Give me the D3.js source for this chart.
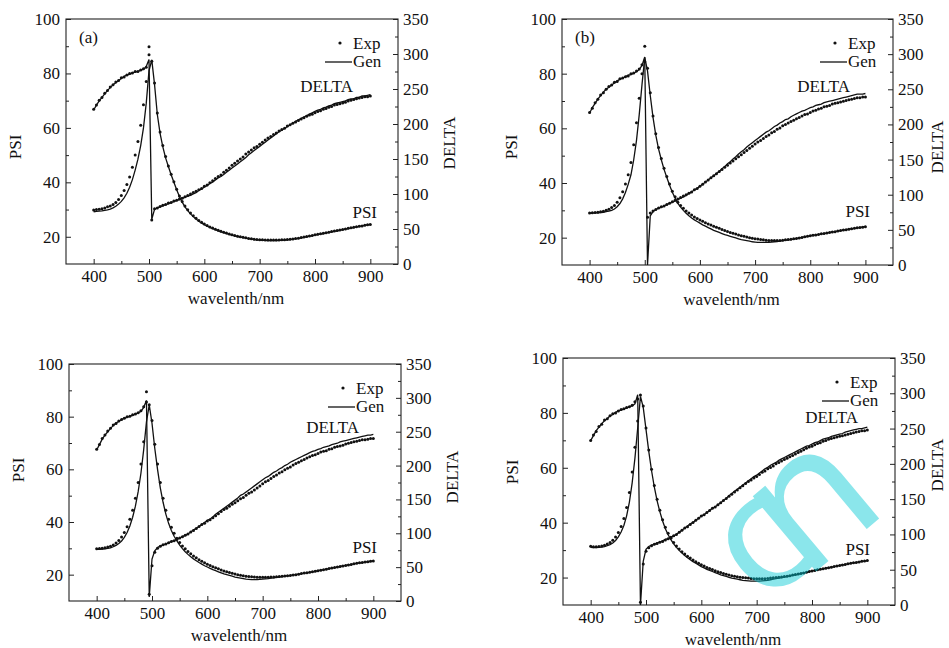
<!DOCTYPE html>
<html>
<head>
<meta charset="utf-8">
<script src="https://cdn.jsdelivr.net/npm/d3@7"></script>
<style>
  body { margin: 0; background: #fff; }
  svg text { font-family: "Liberation Serif", "Times New Roman", serif; font-size: 17px; fill: #111; }
</style>
</head>
<body>
<svg id="chart" width="949" height="648"></svg>
<script>
// wavelength grid (nm), shared by all four panels
const wl = [
  400,405,410,415,420,425,430,435,440,445,
  450,455,460,465,470,475,480,485,490,495,
  500,505,510,515,520,525,530,535,540,545,
  550,555,560,565,570,575,580,585,590,595,
  600,605,610,615,620,625,630,635,640,645,
  650,655,660,665,670,675,680,685,690,695,
  700,705,710,715,720,725,730,735,740,745,
  750,755,760,765,770,775,780,785,790,795,
  800,805,810,815,820,825,830,835,840,845,
  850,855,860,865,870,875,880,885,890,895,
  900
];

// tick values
const xMajor = [400, 500, 600, 700, 800, 900];
const xMinor = [450, 550, 650, 750, 850];
const psiMajor = [20, 40, 60, 80, 100];
const psiMinor = [30, 50, 70, 90];
const dltMajor = [0, 50, 100, 150, 200, 250, 300, 350];
const dltMinor = [25, 75, 125, 175, 225, 275, 325];

// ---- panel (a) ----
const psiExpA = [
  29.8,30.0,30.1,30.3,30.6,31.0,31.3,31.9,32.6,33.7,
  35.2,37.0,39.2,42.0,45.5,50.0,55.0,61.0,68.5,77.0,
  89.8,84.5,76.5,65.5,58.5,53.5,49.5,46.0,43.0,40.2,
  37.5,35.0,33.0,31.3,29.9,28.7,27.7,26.8,26.0,25.3,
  24.7,24.1,23.6,23.2,22.8,22.4,22.0,21.7,21.4,21.0,
  20.7,20.5,20.2,20.0,19.8,19.6,19.4,19.3,19.1,19.0,
  18.9,18.9,18.8,18.8,18.8,18.8,18.8,18.8,18.9,18.9,
  19.0,19.1,19.2,19.4,19.5,19.7,19.9,20.1,20.3,20.5,
  20.7,20.9,21.1,21.3,21.5,21.7,21.9,22.1,22.3,22.5,
  22.7,22.9,23.1,23.3,23.5,23.7,23.9,24.0,24.2,24.4,
  24.5
];
const psiGenA = [
  29.2,29.3,29.4,29.5,29.7,29.9,30.2,30.6,31.2,32.0,
  33.0,34.3,36.0,38.2,41.0,44.5,48.5,53.5,60.0,69.0,
  81.0,85.0,76.0,65.0,58.0,53.0,49.0,45.8,42.8,40.0,
  37.3,34.8,32.7,31.0,29.6,28.4,27.4,26.5,25.7,25.0,
  24.4,23.9,23.4,23.0,22.6,22.2,21.8,21.5,21.2,20.9,
  20.6,20.3,20.1,19.9,19.7,19.5,19.3,19.2,19.0,18.9,
  18.8,18.7,18.7,18.6,18.6,18.6,18.6,18.7,18.7,18.8,
  18.9,19.0,19.1,19.3,19.4,19.6,19.8,20.0,20.2,20.4,
  20.6,20.8,21.0,21.2,21.4,21.6,21.8,22.0,22.2,22.4,
  22.6,22.8,23.0,23.2,23.4,23.6,23.8,24.0,24.2,24.4,
  24.6
];
const dltExpA = [
  221,227,234,238,244,248,253,256,260,262,
  266,267,270,272,273,275,275,277,279,281,
  299,63,79,80,82,84,85,87,88,90,
  91,93,94,96,98,100,102,104,106,108,
  111,113,116,119,122,125,127,131,134,137,
  141,144,147,150,153,157,160,163,166,168,
  171,174,177,180,182,185,187,190,192,194,
  197,199,201,203,205,207,209,211,213,214,
  216,218,219,221,222,224,225,227,228,229,
  230,231,233,234,235,236,237,238,239,239,
  240
];
const dltGenA = [
  220,227,233,238,243,248,252,256,259,262,
  265,268,270,271,273,274,275,277,278,282,
  292,64,78,80,82,83,85,86,88,89,
  91,92,94,95,97,98,100,102,105,107,
  110,112,115,117,120,123,125,128,131,134,
  137,140,143,146,149,152,156,159,162,165,
  168,171,174,177,180,183,186,189,191,194,
  196,199,201,204,206,208,210,212,214,216,
  218,220,221,223,224,226,227,229,230,231,
  232,233,235,236,236,238,238,240,240,241,
  242
];

// ---- panel (b) ----
const psiExpB = [
  29.0,29.1,29.2,29.3,29.5,29.7,30.0,30.4,31.0,31.8,
  33.0,34.6,36.8,39.6,43.0,47.5,54.0,62.0,71.0,80.0,
  90.0,82.0,73.0,64.5,58.0,53.0,49.0,45.4,42.4,39.6,
  37.0,35.0,33.0,31.8,30.8,29.8,29.0,28.3,27.6,27.0,
  26.5,26.0,25.5,25.0,24.6,24.2,23.8,23.4,23.0,22.6,
  22.3,21.9,21.6,21.3,21.0,20.7,20.5,20.2,20.0,19.8,
  19.6,19.5,19.3,19.2,19.1,19.0,19.0,19.0,19.0,19.0,
  19.1,19.2,19.3,19.4,19.6,19.7,19.9,20.1,20.3,20.5,
  20.7,20.9,21.0,21.2,21.4,21.5,21.7,21.9,22.1,22.2,
  22.4,22.6,22.8,22.9,23.1,23.3,23.4,23.6,23.7,23.8,
  24.0
];
const psiGenB = [
  29.0,29.0,29.1,29.1,29.2,29.3,29.5,29.7,30.0,30.5,
  31.3,32.5,34.2,36.5,39.5,43.0,48.5,55.5,65.0,76.0,
  86.0,81.0,72.0,64.0,57.5,52.5,48.5,45.0,42.0,39.2,
  36.6,34.5,32.5,31.2,30.0,28.9,28.0,27.2,26.5,25.9,
  25.3,24.7,24.2,23.7,23.2,22.7,22.3,21.9,21.5,21.1,
  20.8,20.5,20.2,19.9,19.6,19.3,19.1,18.9,18.7,18.5,
  18.4,18.3,18.3,18.3,18.3,18.3,18.4,18.5,18.6,18.7,
  18.9,19.0,19.2,19.3,19.5,19.7,19.9,20.1,20.3,20.5,
  20.7,20.9,21.0,21.2,21.4,21.5,21.7,21.9,22.1,22.2,
  22.4,22.6,22.8,22.9,23.1,23.3,23.4,23.6,23.7,23.9,
  24.1
];
const dltExpB = [
  217,223,231,236,242,245,250,254,256,260,
  261,265,266,268,269,272,273,276,279,285,
  289,68,74,77,79,81,83,84,86,88,
  90,92,94,96,98,100,102,104,107,109,
  112,115,118,121,124,127,130,133,136,139,
  142,145,148,151,154,157,160,163,166,169,
  172,175,177,180,183,185,188,190,193,195,
  198,200,202,204,206,208,210,212,214,215,
  217,219,220,222,223,225,226,227,229,230,
  231,232,233,234,235,236,237,238,238,239,
  239
];
const dltGenB = [
  216,224,230,236,241,246,250,253,256,259,
  262,264,266,268,270,271,273,275,278,284,
  296,0,70,76,79,81,82,84,86,88,
  89,91,93,95,97,99,102,104,107,109,
  112,115,118,121,124,127,130,133,137,140,
  144,147,151,154,158,161,164,168,171,174,
  177,180,183,186,189,191,194,197,199,202,
  204,207,208,211,213,215,217,219,220,222,
  224,225,227,228,229,231,232,233,234,235,
  236,237,238,239,240,241,242,243,243,243,
  244
];

// ---- panel (c) ----
const psiExpC = [
  29.8,29.9,30.0,30.2,30.5,30.8,31.3,32.0,33.0,34.3,
  36.0,38.2,41.0,44.5,49.0,55.0,62.0,70.5,89.5,84.5,
  78.5,69.5,62.0,55.0,49.0,44.5,41.0,38.0,35.7,33.8,
  32.2,30.9,29.8,28.8,27.9,27.1,26.4,25.7,25.1,24.5,
  24.0,23.5,23.0,22.6,22.2,21.8,21.4,21.1,20.8,20.5,
  20.3,20.0,19.8,19.6,19.4,19.3,19.2,19.1,19.0,19.0,
  19.0,19.0,19.0,19.1,19.1,19.2,19.3,19.4,19.5,19.6,
  19.7,19.9,20.0,20.2,20.4,20.6,20.7,20.9,21.1,21.3,
  21.5,21.7,21.9,22.1,22.3,22.5,22.7,22.9,23.1,23.3,
  23.5,23.7,23.9,24.1,24.3,24.5,24.6,24.8,24.9,25.1,
  25.2
];
const psiGenC = [
  29.6,29.6,29.7,29.8,30.0,30.2,30.6,31.1,31.8,32.8,
  34.2,36.0,38.5,41.8,46.0,51.5,58.5,67.5,78.0,84.5,
  77.5,68.0,60.0,53.0,47.5,43.0,39.5,36.8,34.6,32.8,
  31.2,29.9,28.7,27.7,26.8,26.0,25.3,24.6,24.0,23.4,
  22.9,22.4,21.9,21.5,21.1,20.7,20.3,20.0,19.7,19.4,
  19.1,18.9,18.7,18.5,18.3,18.2,18.1,18.1,18.1,18.2,
  18.3,18.4,18.5,18.7,18.8,19.0,19.1,19.3,19.4,19.6,
  19.7,19.9,20.0,20.2,20.4,20.6,20.7,20.9,21.1,21.3,
  21.5,21.7,21.9,22.1,22.3,22.5,22.7,22.9,23.1,23.3,
  23.5,23.7,23.9,24.1,24.3,24.5,24.6,24.8,24.9,25.1,
  25.2
];
const dltExpC = [
  224,231,240,245,251,255,260,262,266,268,
  270,272,273,275,276,278,281,287,294,10,
  52,72,78,81,83,84,86,88,89,91,
  93,95,97,99,102,104,107,110,113,115,
  118,120,123,126,129,132,135,137,140,143,
  145,148,151,153,156,159,161,164,167,170,
  173,176,178,181,184,186,189,191,194,196,
  198,201,203,205,207,209,211,213,215,216,
  218,220,221,222,224,225,227,228,229,230,
  232,233,234,235,236,237,238,238,239,240,
  240
];
const dltGenC = [
  223,231,239,245,250,255,259,263,265,268,
  270,271,273,274,276,278,280,286,296,6,
  62,74,79,81,83,84,86,88,89,91,
  93,95,97,99,102,105,107,110,113,116,
  119,121,124,128,131,134,137,140,143,146,
  149,152,156,158,161,164,167,170,173,176,
  179,182,184,187,190,192,195,197,200,202,
  205,207,209,211,213,215,217,219,221,222,
  224,225,227,228,229,231,232,233,235,236,
  237,238,239,240,241,242,243,244,245,245,
  246
];

// ---- panel (d) ----
const psiExpD = [
  31.4,31.2,31.2,31.3,31.5,31.8,32.2,32.8,33.6,34.8,
  36.4,38.6,41.5,45.5,51.0,58.5,67.5,77.0,86.5,82.5,
  74.5,66.5,59.5,53.5,48.5,44.5,41.1,38.3,36.1,34.3,
  32.8,31.5,30.4,29.4,28.6,27.8,27.1,26.4,25.8,25.2,
  24.7,24.2,23.7,23.3,22.9,22.5,22.1,21.8,21.5,21.2,
  20.9,20.7,20.5,20.3,20.1,20.0,19.9,19.8,19.7,19.6,
  19.6,19.6,19.6,19.6,19.7,19.8,19.9,20.0,20.1,20.2,
  20.4,20.5,20.7,20.9,21.1,21.3,21.5,21.7,21.9,22.2,
  22.4,22.6,22.8,23.0,23.2,23.4,23.6,23.8,24.0,24.2,
  24.4,24.6,24.8,25.0,25.2,25.4,25.5,25.7,25.9,26.0,
  26.2
];
const psiGenD = [
  31.0,30.9,30.9,31.0,31.1,31.3,31.6,32.0,32.6,33.5,
  34.8,36.6,39.0,42.5,47.5,54.5,63.5,74.5,86.0,82.0,
  74.0,66.0,59.0,53.0,48.0,44.0,40.6,37.8,35.6,33.8,
  32.3,31.0,29.9,28.9,28.0,27.2,26.5,25.8,25.2,24.6,
  24.0,23.5,23.0,22.6,22.2,21.8,21.4,21.0,20.7,20.4,
  20.1,19.8,19.6,19.4,19.2,19.0,18.9,18.8,18.7,18.7,
  18.7,18.7,18.8,18.9,19.0,19.2,19.4,19.6,19.8,20.0,
  20.2,20.4,20.6,20.8,21.0,21.2,21.5,21.7,21.9,22.2,
  22.4,22.6,22.8,23.0,23.2,23.4,23.6,23.8,24.0,24.2,
  24.4,24.6,24.8,25.0,25.2,25.4,25.5,25.7,25.9,26.0,
  26.2
];
const dltExpD = [
  233,241,246,253,256,262,264,268,271,272,
  275,277,278,280,281,283,288,292,4,58,
  76,81,84,86,87,89,90,92,94,96,
  98,100,103,106,109,111,114,117,120,123,
  126,128,131,134,137,139,142,145,148,151,
  154,157,160,163,166,169,172,175,177,180,
  182,185,188,190,193,195,197,200,202,204,
  206,208,210,212,214,216,218,220,222,224,
  225,227,229,230,232,233,235,236,237,238,
  239,240,241,242,243,244,245,246,247,247,
  248
];
const dltGenD = [
  233,240,247,252,257,261,264,268,270,273,
  275,276,278,279,281,282,285,298,0,62,
  79,83,85,86,88,89,91,93,94,96,
  98,100,103,106,109,112,115,117,120,123,
  126,128,131,134,137,139,142,145,148,151,
  155,158,161,164,167,170,173,176,179,182,
  184,187,190,193,195,198,200,202,205,207,
  209,211,213,215,217,219,221,223,225,226,
  228,230,231,233,235,236,237,239,240,241,
  242,243,245,246,247,248,249,250,250,251,
  252
];

// layout of the four panels (pixels)
const panels = [
  { x0: 66,  x1: 398, y0: 19,  y1: 264, tag: "(a)", psiY: 147, dltX: 57, dltY: 143, dl: [-45, 73], pl: [-21, -46],
    psiExp: psiExpA, psiGen: psiGenA, dltExp: dltExpA, dltGen: dltGenA },
  { x0: 562, x1: 893, y0: 19,  y1: 265, tag: "(b)", psiY: 147, dltX: 50, dltY: 147, dl: [-43, 73], pl: [-23, -48],
    psiExp: psiExpB, psiGen: psiGenB, dltExp: dltExpB, dltGen: dltGenB },
  { x0: 69,  x1: 401, y0: 364, y1: 601, tag: null,  psiY: 470, dltX: 57, dltY: 477, dl: [-42, 69], pl: [-24, -48],
    psiExp: psiExpC, psiGen: psiGenC, dltExp: dltExpC, dltGen: dltGenC },
  { x0: 563, x1: 895, y0: 358, y1: 605, tag: null,  psiY: 472, dltX: 48, dltY: 465, dl: [-37, 65], pl: [-25, -50],
    psiExp: psiExpD, psiGen: psiGenD, dltExp: dltExpD, dltGen: dltGenD }
];

const serif = '"Liberation Serif", "Times New Roman", serif';
const svg = d3.select("#chart");

const noDomain = g => g.select(".domain").remove();

function drawPanel(p) {
  const g = svg.append("g");
  const x = d3.scaleLinear().domain([350, 950]).range([p.x0, p.x1]);
  const yP = d3.scaleLinear().domain([10, 100]).range([p.y1, p.y0]);
  const yD = d3.scaleLinear().domain([0, 350]).range([p.y1, p.y0]);

  // axes, ticks point inward
  g.append("g").attr("transform", `translate(0,${p.y1})`)
    .call(d3.axisBottom(x).tickValues(xMajor).tickSizeInner(-5).tickSizeOuter(0).tickPadding(6))
    .call(noDomain);
  g.append("g").attr("transform", `translate(0,${p.y1})`)
    .call(d3.axisBottom(x).tickValues(xMinor).tickSizeInner(-3).tickSizeOuter(0).tickFormat(""))
    .call(noDomain);
  g.append("g").attr("transform", `translate(${p.x0},0)`)
    .call(d3.axisLeft(yP).tickValues(psiMajor).tickSizeInner(-5).tickSizeOuter(0).tickPadding(6))
    .call(noDomain);
  g.append("g").attr("transform", `translate(${p.x0},0)`)
    .call(d3.axisLeft(yP).tickValues(psiMinor).tickSizeInner(-3).tickSizeOuter(0).tickFormat(""))
    .call(noDomain);
  g.append("g").attr("transform", `translate(${p.x1},0)`)
    .call(d3.axisRight(yD).tickValues(dltMajor).tickSizeInner(-5).tickSizeOuter(0).tickPadding(5))
    .call(noDomain);
  g.append("g").attr("transform", `translate(${p.x1},0)`)
    .call(d3.axisRight(yD).tickValues(dltMinor).tickSizeInner(-3).tickSizeOuter(0).tickFormat(""))
    .call(noDomain);
  g.selectAll(".tick line").attr("stroke", "#222");
  g.selectAll(".tick text").style("font-family", serif).style("font-size", "17px").style("fill", "#111");

  g.append("rect")
    .attr("x", p.x0).attr("y", p.y0)
    .attr("width", p.x1 - p.x0).attr("height", p.y1 - p.y0)
    .attr("fill", "none").attr("stroke", "#222").attr("stroke-width", 1.1);

  // generated curves
  const lineP = d3.line().x((d, i) => x(wl[i])).y(d => yP(d));
  const lineD = d3.line().x((d, i) => x(wl[i])).y(d => yD(d));
  g.append("path").attr("d", lineP(p.psiGen)).attr("fill", "none").attr("stroke", "#111").attr("stroke-width", 1.3);
  g.append("path").attr("d", lineD(p.dltGen)).attr("fill", "none").attr("stroke", "#111").attr("stroke-width", 1.3);

  // experimental points
  g.append("g").selectAll("circle").data(p.psiExp).join("circle")
    .attr("cx", (d, i) => x(wl[i])).attr("cy", d => yP(d)).attr("r", 1.5).attr("fill", "#111");
  g.append("g").selectAll("circle").data(p.dltExp).join("circle")
    .attr("cx", (d, i) => x(wl[i])).attr("cy", d => yD(d)).attr("r", 1.5).attr("fill", "#111");

  // axis titles
  g.append("text").attr("x", (p.x0 + p.x1) / 2 + 4).attr("y", p.y1 + 40)
    .attr("text-anchor", "middle").text("wavelenth/nm");
  g.append("text").attr("transform", `translate(${p.x0 - 45},${p.psiY}) rotate(-90)`)
    .attr("text-anchor", "middle").text("PSI");
  g.append("text").attr("transform", `translate(${p.x1 + p.dltX},${p.dltY}) rotate(-90)`)
    .attr("text-anchor", "middle").text("DELTA");

  // curve labels
  g.append("text").attr("x", p.x1 + p.dl[0]).attr("y", p.y0 + p.dl[1])
    .attr("text-anchor", "end").text("DELTA");
  g.append("text").attr("x", p.x1 + p.pl[0]).attr("y", p.y1 + p.pl[1])
    .attr("text-anchor", "end").text("PSI");

  // legend
  g.append("circle").attr("cx", p.x1 - 58).attr("cy", p.y0 + 24).attr("r", 1.6).attr("fill", "#111");
  g.append("text").attr("x", p.x1 - 45).attr("y", p.y0 + 30).text("Exp");
  g.append("line").attr("x1", p.x1 - 73).attr("x2", p.x1 - 46)
    .attr("y1", p.y0 + 43).attr("y2", p.y0 + 43).attr("stroke", "#111").attr("stroke-width", 1.3);
  g.append("text").attr("x", p.x1 - 45).attr("y", p.y0 + 48).text("Gen");

  if (p.tag) {
    g.append("text").attr("x", p.x0 + 13).attr("y", p.y0 + 24).text(p.tag);
  }
}

panels.forEach(drawPanel);

// watermark lying over the lower right panel (one layer, so overlaps do not darken)
const wm = svg.append("g").attr("opacity", 0.45);
[["c", 768, 546, 160], ["n", 816, 508, 180]].forEach(([ch, cx, cy, fs]) => {
  wm.append("text").attr("transform", `translate(${cx},${cy}) rotate(-40)`)
    .attr("text-anchor", "middle").attr("dy", "0.27em")
    .style("font-family", "DejaVu Sans").style("font-size", fs + "px")
    .style("fill", "rgb(0,200,212)")
    .text(ch);
});
</script>
</body>
</html>
